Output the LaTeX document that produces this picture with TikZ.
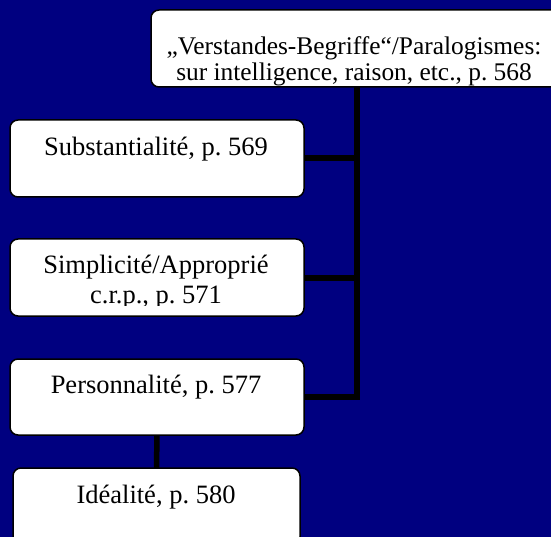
\documentclass[tikz,border=0pt]{standalone}
\usepackage{fontspec}
\setmainfont{Liberation Serif}
\definecolor{bg}{RGB}{0,0,128}
\frenchspacing
\begin{document}
\begin{tikzpicture}[x=1pt,y=-1pt,
  box/.style={draw=black, line width=1.5pt, fill=white, rounded corners=8pt, inner sep=0pt, outer sep=0pt},
  conn/.style={line width=6pt, draw=black},
  txt/.style={anchor=base, font=\fontsize{26.5}{30}\selectfont\frenchspacing, inner sep=0pt, text=black},
  txtsm/.style={anchor=base, font=\fontsize{25.4}{28}\selectfont\frenchspacing, inner sep=0pt, text=black}]
\useasboundingbox (0,0) rectangle (551,537);
\clip (0,0) rectangle (551,537);
\fill[bg] (0,0) rectangle (551,537);
% boxes (coordinates only for connectors first)
\path (356.5,48.5) node[box, draw=none, fill=none, minimum width=411pt, minimum height=77pt] (top) {};
\path (157,158.5) node[box, draw=none, fill=none, minimum width=294pt, minimum height=77pt] (subst) {};
\path (157,277.5) node[box, draw=none, fill=none, minimum width=294pt, minimum height=77pt] (simpl) {};
\path (157,397) node[box, draw=none, fill=none, minimum width=294pt, minimum height=76pt] (pers) {};
\path (156.5,506.5) node[box, draw=none, fill=none, minimum width=287pt, minimum height=77pt] (ideal) {};
% connectors
\draw[conn] (top.south) |- (pers.east);
\draw[conn] (subst.east) -- (subst.east -| top.south);
\draw[conn] (simpl.east) -- (simpl.east -| top.south);
\draw[conn, line width=5.5pt] (pers.south) -- (ideal.north);
% visible boxes
\node[box, minimum width=411pt, minimum height=77pt] (topb) at (top) {};
\node[box, minimum width=294pt, minimum height=77pt] (substb) at (subst) {};
\node[box, minimum width=294pt, minimum height=77pt] (simplb) at (simpl) {};
\node[box, minimum width=294pt, minimum height=76pt] (persb) at (pers) {};
\node[box, minimum width=287pt, minimum height=77pt] (idealb) at (ideal) {};
% texts
\node[txtsm] (t1) at (354,55) {„Verstandes-Begriffe“/Paralogismes:};
\node[txtsm] (t2) at (354,81) {sur intelligence, raison, etc., p. 568};
\node[txt] (t3) at (156,156) {Substantialité, p. 569};
\node[txt] (t4) at (156,273) {Simplicité/Approprié};
\begin{scope}
\clip (0,240) rectangle (551,305);
\node[txt] (t5) at (156,303) {c.r.p., p. 571};
\end{scope}
\node[txt] (t6) at (156,393) {Personnalité, p. 577};
\node[txt] (t7) at (156,503) {Idéalité, p. 580};
\end{tikzpicture}
\end{document}
